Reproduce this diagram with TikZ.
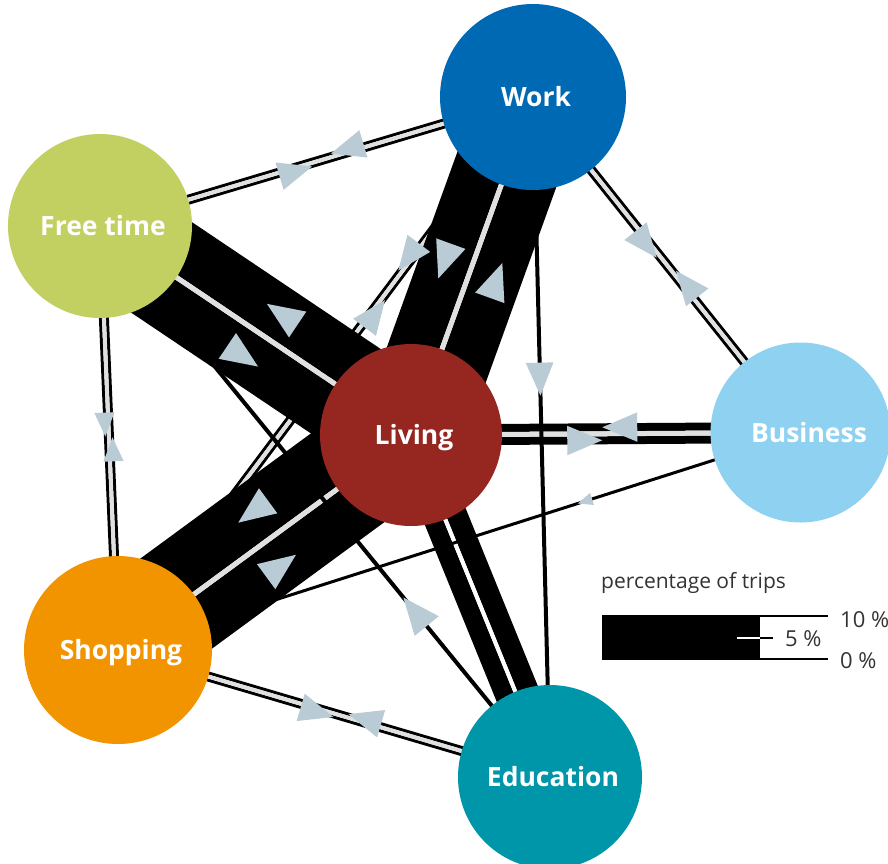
\documentclass[tikz,border=0pt]{standalone}
\usepackage{fontspec}
\setmainfont{Open Sans}
\usetikzlibrary{calc,decorations.markings}
\pgfdeclarelayer{bg}
\pgfsetlayers{bg,main}
\definecolor{cwork}{HTML}{0069B4}
\definecolor{cfree}{HTML}{C2D062}
\definecolor{cliving}{HTML}{952620}
\definecolor{cbusiness}{HTML}{8ED1F0}
\definecolor{cshopping}{HTML}{F29400}
\definecolor{ceducation}{HTML}{0096AA}
\definecolor{carrow}{HTML}{B9CBD5}
\definecolor{cgap}{HTML}{DFE1E1}
\definecolor{ctext}{HTML}{333333}

% one direction of a flow, drawn on the right-hand side of #1 -> #2
\newcommand\flowband[4]{%
  \pgfmathsetmacro\fbo{#4+#3/2}%
  \draw[bandline, line width=#3pt] ($(#1.center)!\fbo pt!-90:(#2.center)$) -- ($(#2.center)!\fbo pt!90:(#1.center)$);}
\newcommand\flowgap[4][cgap]{\draw[gapline, draw=#1, line width=#4pt] (#2.center) -- (#3.center);}
\newcommand\flowline[3]{\draw[bandline, line width=#3pt] (#1.center) -- (#2.center);}
\newcommand\flowarrow[5]{%
  \path[decoration={markings, mark=at position #4 with {\fill[arrowfill] (0.5*#5pt,0pt) -- (-0.5*#5pt,0.42*#5pt) -- (-0.5*#5pt,-0.42*#5pt) -- cycle;}}, decorate]
    ($(#1.center)!#3pt!-90:(#2.center)$) -- ($(#2.center)!#3pt!90:(#1.center)$);}

\begin{document}
\begin{tikzpicture}[x=1pt, y=-1pt,
  bandline/.style={draw=black, line cap=butt},
  gapline/.style={line cap=butt},
  arrowfill/.style={fill=carrow},
  place/.style={circle, inner sep=0pt, text=white, text height=19pt, text depth=0pt,
    font=\bfseries\fontsize{26.5}{30}\selectfont, execute at begin node={\hspace*{6pt}}},
  legendtext/.style={text=ctext, inner sep=0pt, font=\fontsize{21}{24}\selectfont}]
\useasboundingbox (0,0) rectangle (888,863);

\node[place, fill=cwork, minimum size=186pt] (work) at (533,97) {Work};
\node[place, fill=cfree, minimum size=184pt] (free) at (100,226) {Free time};
\node[place, fill=cliving, minimum size=182pt] (living) at (411,435) {Living};
\node[place, fill=cbusiness, minimum size=180pt] (business) at (800.5,432.5) {\hspace*{11pt}Business};
\node[place, fill=cshopping, minimum size=188pt] (shopping) at (118,650) {Shopping};
\node[place, fill=ceducation, minimum size=184pt] (education) at (550,777) {Education};

% legend
\fill (602,616) rectangle (760,659);
\draw[line width=1.5pt] (602,616) -- (828,616);
\draw[line width=1.5pt] (602,659) -- (828,659);
\draw[white, line width=2pt] (737,638) -- (760,638);
\draw[line width=2pt] (760,638) -- (773,638);
\node[legendtext, anchor=base west] (legtitle) at (601,588) {percentage of trips};
\node[legendtext, anchor=base west, font=\fontsize{22}{24}\selectfont] (l10) at (840,627) {10~\%};
\node[legendtext, anchor=base west, font=\fontsize{22}{24}\selectfont] (l5) at (785,646) {5~\%};
\node[legendtext, anchor=base west, font=\fontsize{22}{24}\selectfont] (l0) at (840,668) {0~\%};

\begin{pgfonlayer}{bg}
% thin double line lying beneath the thick bands
\flowband{shopping}{work}{3}{2}
\flowband{work}{shopping}{3}{2}
\flowgap{shopping}{work}{4}
% thick bands
\flowband{free}{living}{52}{2.5}
\flowband{living}{free}{52}{2.5}
\flowgap{free}{living}{5}
\flowband{work}{living}{50}{2.5}
\flowband{living}{work}{50}{2.5}
\flowgap{work}{living}{5}
\flowband{shopping}{living}{52}{2.5}
\flowband{living}{shopping}{58}{2.5}
\flowgap{shopping}{living}{5}
\flowband{living}{education}{19}{2}
\flowband{education}{living}{21}{2}
\flowgap[white]{living}{education}{4}
\flowband{living}{business}{8}{2.5}
\flowband{business}{living}{8}{2.5}
\flowgap{living}{business}{5}
% thin double lines
\flowband{free}{work}{3}{2}
\flowband{work}{free}{3}{2}
\flowgap{free}{work}{4}
\flowband{work}{business}{3}{2}
\flowband{business}{work}{3}{2}
\flowgap{work}{business}{4}
\flowband{free}{shopping}{3}{2}
\flowband{shopping}{free}{3}{2}
\flowgap{free}{shopping}{4}
\flowband{shopping}{education}{3}{2}
\flowband{education}{shopping}{3}{2}
\flowgap{shopping}{education}{4}
% single lines
\flowline{work}{education}{4}
\flowline{business}{shopping}{3}
\flowline{education}{free}{4}
% arrows
\flowarrow{free}{living}{28.5}{0.51}{37}
\flowarrow{living}{free}{28.5}{0.465}{37}
\flowarrow{work}{living}{27.5}{0.513}{37}
\flowarrow{living}{work}{27.5}{0.485}{37}
\flowarrow{shopping}{living}{28.5}{0.499}{37}
\flowarrow{living}{shopping}{31.5}{0.475}{37}
\flowarrow{living}{business}{6.5}{0.446}{35}
\flowarrow{business}{living}{6.5}{0.464}{35}
\flowarrow{free}{work}{3.5}{0.45}{34}
\flowarrow{work}{free}{3.5}{0.427}{34}
\flowarrow{work}{business}{3.5}{0.433}{34}
\flowarrow{business}{work}{3.5}{0.436}{34}
\flowarrow{free}{shopping}{3.5}{0.468}{24}
\flowarrow{shopping}{free}{3.5}{0.473}{24}
\flowarrow{shopping}{education}{3.5}{0.463}{34}
\flowarrow{education}{shopping}{3.5}{0.431}{34}
\flowarrow{shopping}{work}{3.5}{0.612}{34}
\flowarrow{work}{shopping}{3.5}{0.293}{34}
\flowarrow{work}{education}{0}{0.415}{33}
\flowarrow{business}{shopping}{0}{0.316}{15}
\flowarrow{education}{free}{0}{0.30}{37}
\end{pgfonlayer}
\end{tikzpicture}
\end{document}
